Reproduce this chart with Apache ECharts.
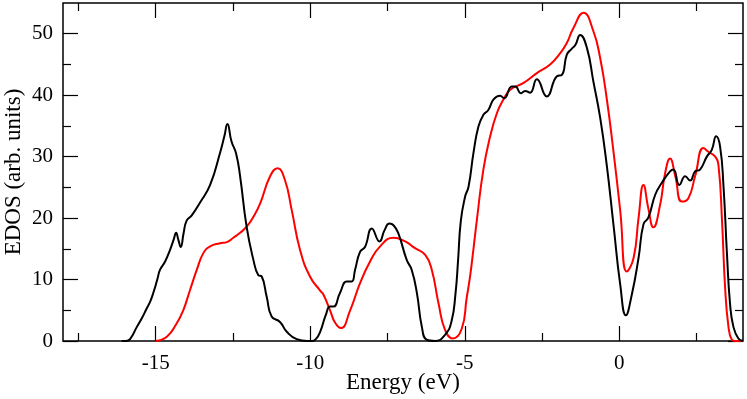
<!DOCTYPE html>
<html>
<head>
<meta charset="utf-8">
<script src="https://cdn.jsdelivr.net/npm/echarts@6/dist/echarts.min.js"></script>
<style>
  html, body { margin: 0; padding: 0; background: #fff; }
  #chart { width: 747px; height: 399px; }
</style>
</head>
<body>
<div id="chart"></div>
<script>
// black curve (energy in eV, EDOS in arb. units)
const energyBlack = [
  -16.1, -15.96, -15.83, -15.61, -15.45, -15.3, -15.18, -15.08, -14.95, -14.86,
  -14.7, -14.54, -14.42, -14.34, -14.27, -14.19, -14.1, -14.0, -13.84, -13.57,
  -13.24, -12.92, -12.78, -12.68, -12.55, -12.4, -12.27, -12.06, -11.84, -11.68,
  -11.57, -11.41, -11.25, -10.98, -10.76, -10.44, -10.1, -9.95, -9.82, -9.68,
  -9.5, -9.36, -9.25, -9.04, -8.82, -8.66, -8.55, -8.39, -8.23, -8.01,
  -7.76, -7.6, -7.44, -7.3, -7.15, -6.88, -6.72, -6.55, -6.39, -6.23,
  -5.96, -5.64, -5.43, -5.3, -5.22, -5.13, -4.99, -4.88, -4.72, -4.56,
  -4.4, -4.24, -4.07, -3.86, -3.73, -3.48, -3.37, -3.18, -3.05, -2.89,
  -2.67, -2.35, -2.02, -1.86, -1.7, -1.55, -1.42, -1.27, -1.05, -0.84,
  -0.62, -0.41, -0.19, 0.03, 0.21, 0.4, 0.62, 0.78, 0.94, 1.16,
  1.37, 1.64, 1.75, 1.94, 2.13, 2.29, 2.45, 2.61, 2.83, 2.99,
  3.13, 3.26, 3.37, 3.48, 3.58, 3.69, 3.85, 4.0
]
const edosBlack = [
  0, 0, 0.3, 2.3, 3.7, 5.2, 6.4, 7.8, 10.0, 11.6,
  12.9, 14.8, 16.5, 17.6, 16.5, 15.3, 17.5, 19.6, 20.4, 22.5,
  25.4, 30.6, 33.3, 35.3, 32.5, 30.5, 26.8, 18.6, 13.2, 10.7,
  10.5, 7.2, 4.0, 3.1, 1.5, 0.3, 0, 0, 0.3, 1.5,
  4.2, 5.6, 5.6, 7.8, 9.7, 9.7, 11.6, 14.5, 15.3, 18.3,
  16.2, 18.0, 19.1, 18.8, 17.5, 13.2, 11.6, 7.8, 2.3, 0.2,
  0, 1.0, 3.2, 7.8, 13, 19.5, 23.5, 25.1, 30.6, 34.9,
  36.8, 37.6, 39.3, 39.9, 39.5, 41.4, 41.4, 40.3, 40.7, 40.4,
  42.6, 39.8, 43.1, 43.3, 46.6, 47.5, 48.2, 49.8, 47.7, 42.2,
  36.3, 28.7, 18.9, 9.1, 4.2, 7.5, 13.5, 19.0, 20.1, 23.8,
  25.7, 27.6, 27.9, 25.4, 26.8, 26.1, 27.6, 27.9, 30.0, 31.1,
  33.3, 31.6, 25.1, 14.3, 6.1, 2.3, 0.4, 0
]

// red curve
const energyRed = [
  -15.0, -14.64, -14.32, -14.11, -13.89, -13.67, -13.46, -13.24, -12.92, -12.7,
  -12.49, -12.27, -12.06, -11.84, -11.62, -11.3, -11.06, -10.82, -10.6, -10.33,
  -10.01, -9.68, -9.58, -9.36, -9.2, -9.01, -8.71, -8.39, -8.07, -7.74,
  -7.31, -6.93, -6.61, -6.28, -6.07, -5.85, -5.64, -5.39, -5.1, -4.94,
  -4.83, -4.72, -4.61, -4.4, -4.18, -3.96, -3.75, -3.53, -3.1, -2.67,
  -2.24, -1.92, -1.7, -1.49, -1.16, -0.84, -0.62, -0.41, -0.19, 0.03,
  0.24, 0.46, 0.62, 0.78, 0.94, 1.1, 1.32, 1.48, 1.64, 1.81,
  2.02, 2.23, 2.45, 2.72, 2.88, 3.1, 3.21, 3.32, 3.42, 3.53,
  3.64, 3.75, 4.0
]
const edosRed = [
  0, 0.7, 2.9, 5.0, 8.3, 11.6, 14.3, 15.4, 15.9, 16.1,
  16.8, 17.6, 18.6, 20.2, 22.4, 26.8, 28.1, 26.2, 21.3, 14.8,
  10.5, 8.2, 7.6, 5.0, 3.0, 2.1, 5.0, 9.4, 12.9, 15.4,
  16.8, 16.2, 15.1, 14.0, 11.6, 6.1, 1.8, 0.4, 2.0, 7.0,
  10.5, 15.0, 19.7, 27.9, 33.3, 37.1, 39.3, 40.9, 42.0, 43.6,
  45.0, 46.8, 48.5, 50.9, 53.4, 50.4, 46.0, 39.5, 30.8, 21.1,
  11.3, 13.5, 20.0, 25.4, 21.5, 18.5, 22.2, 27.3, 29.7, 26.8,
  22.7, 23.2, 26.8, 31.4, 30.8, 30.0, 28.4, 19.7, 8.8, 2.3,
  0.2, 0, 0
]

const xMajor = [-15, -10, -5, 0]
const xMinor = [-17.5, -12.5, -7.5, -2.5, 2.5]
const yMajor = [0, 10, 20, 30, 40, 50]
const yMinor = [5, 15, 25, 35, 45]

const FONT = 'Liberation Serif'
const TICK_FONT = 21
const NAME_FONT = 23
const MAJOR_LEN = 15
const MINOR_LEN = 8

function zip(xs, ys) {
  return xs.map((x, i) => [x, ys[i]])
}

// one axis per tick set (major / minor) and per side, all sharing the same range
function xAxisOf(pos, values, len, labels) {
  return {
    type: 'value', position: pos, min: -18, max: 4,
    axisLine: { show: false, onZero: false },
    splitLine: { show: false },
    axisTick: { inside: true, length: len, customValues: values, lineStyle: { color: '#000', width: 1.2 } },
    axisLabel: labels
      ? { customValues: values, color: '#000', fontFamily: FONT, fontSize: TICK_FONT, margin: 12 }
      : { show: false },
    name: labels ? 'Energy (eV)' : '',
    nameLocation: 'middle',
    nameGap: 30,
    nameMoveOverlap: false,
    nameTextStyle: { color: '#000', fontFamily: FONT, fontSize: NAME_FONT },
  }
}

function yAxisOf(pos, values, len, labels) {
  return {
    type: 'value', position: pos, min: 0, max: 55,
    axisLine: { show: false, onZero: false },
    splitLine: { show: false },
    axisTick: { inside: true, length: len, customValues: values, lineStyle: { color: '#000', width: 1.2 } },
    axisLabel: labels
      ? { customValues: values, color: '#000', fontFamily: FONT, fontSize: TICK_FONT, margin: 10 }
      : { show: false },
    name: labels ? 'EDOS (arb. units)' : '',
    nameLocation: 'middle',
    nameGap: 38,
    nameMoveOverlap: false,
    nameTextStyle: { color: '#000', fontFamily: FONT, fontSize: NAME_FONT },
  }
}

const chart = echarts.init(document.getElementById('chart'), null, { renderer: 'canvas' })

chart.setOption({
  animation: false,
  backgroundColor: '#fff',
  grid: {
    left: 63, right: 4, top: 3, bottom: 58,
    outerBoundsMode: 'none',
    show: true, borderColor: '#000', borderWidth: 1.5, backgroundColor: 'transparent',
  },
  xAxis: [
    xAxisOf('bottom', xMajor, MAJOR_LEN, true),
    xAxisOf('bottom', xMinor, MINOR_LEN, false),
    xAxisOf('top', xMajor, MAJOR_LEN, false),
    xAxisOf('top', xMinor, MINOR_LEN, false),
  ],
  yAxis: [
    yAxisOf('left', yMajor, MAJOR_LEN, true),
    yAxisOf('left', yMinor, MINOR_LEN, false),
    yAxisOf('right', yMajor, MAJOR_LEN, false),
    yAxisOf('right', yMinor, MINOR_LEN, false),
  ],
  series: [
    {
      name: 'red', type: 'line', xAxisIndex: 0, yAxisIndex: 0,
      showSymbol: false, smooth: 0.5,
      lineStyle: { color: '#ff0000', width: 2 },
      data: zip(energyRed, edosRed),
    },
    {
      name: 'black', type: 'line', xAxisIndex: 0, yAxisIndex: 0,
      showSymbol: false, smooth: 0.5,
      lineStyle: { color: '#000', width: 2 },
      data: zip(energyBlack, edosBlack),
    },
  ],
})
</script>
</body>
</html>
